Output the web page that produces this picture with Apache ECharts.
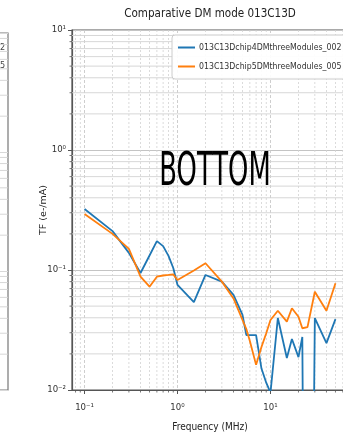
<!DOCTYPE html>
<html>
<head>
<meta charset="utf-8">
<script src="https://cdn.jsdelivr.net/npm/echarts@6/dist/echarts.min.js"></script>
<style>html,body{margin:0;padding:0;background:#fff;}#c{width:343px;height:440px;}</style>
</head>
<body>
<div id="c"></div>
<script>
// ---- data ----
const chartTitle = 'Comparative DM mode 013C13D';
const seriesNames = ['013C13Dchip4DMthreeModules_002', '013C13Dchip5DMthreeModules_005'];
const freqMHz = [0.1, 0.2, 0.3, 0.4, 0.5, 0.6, 0.7, 0.8, 0.9, 1, 1.5, 2, 3, 4, 5, 5.5, 6, 7, 8, 9, 10, 12, 15, 17, 20, 22, 25, 30, 40, 50];
const tfChip4 = [0.322, 0.211, 0.139, 0.0944, 0.132, 0.174, 0.158, 0.131, 0.104, 0.075, 0.054, 0.0909, 0.080, 0.062, 0.0422, 0.0287, 0.0287, 0.0287, 0.0151, 0.0115, 0.0095, 0.0398, 0.0185, 0.0266, 0.0188, 0.0277, 0, 0.0398, 0.0246, 0.039];
const tfChip5 = [0.293, 0.200, 0.150, 0.088, 0.0726, 0.088, 0.090, 0.091, 0.092, 0.0825, 0.099, 0.1138, 0.080, 0.058, 0.0383, 0.0322, 0.0256, 0.0162, 0.0228, 0.0297, 0.0383, 0.0458, 0.0371, 0.048, 0.0408, 0.0327, 0.0334, 0.0659, 0.0458, 0.0775];
const xTickValues = [0.1, 1, 10];
const xTickLabels = ['10\u207B\u00B9', '10\u2070', '10\u00B9'];
const yTickValues = [0.01, 0.1, 1, 10];
const yTickLabels = ['10\u207B\u00B2', '10\u207B\u00B9', '10\u2070', '10\u00B9'];
const xMinorTicks = [0.08, 0.09, 0.2, 0.3, 0.4, 0.5, 0.6, 0.7, 0.8, 0.9, 2, 3, 4, 5, 6, 7, 8, 9, 20, 30, 40, 50, 60];
const yMinorTicks = [0.02, 0.03, 0.04, 0.05, 0.06, 0.07, 0.08, 0.09, 0.2, 0.3, 0.4, 0.5, 0.6, 0.7, 0.8, 0.9, 2, 3, 4, 5, 6, 7, 8, 9];
const annotationText = 'BOTTOM';
const xName = 'Frequency (MHz)';
const yName = 'TF (e-/mA)';
const leftPanelLegendTail = ['2', '5'];

// ---- chart ----
const X_MIN = 0.0733, X_MAX = 68.2, Y_MIN = 0.01, Y_MAX = 10;
const FLOOR = 1e-8; // non-positive values are clipped below the axis on a log scale
const colors = ['#1f77b4', '#ff7f0e'];
const condensed = 'DejaVu Sans Condensed, DejaVu Sans, sans-serif';

function tickFmt(values, labels) {
  return function (v) {
    for (let i = 0; i < values.length; i++) {
      if (Math.abs(Math.log10(v) - Math.log10(values[i])) < 1e-6) return labels[i];
    }
    return '';
  };
}

function pairs(xs, ys) {
  return xs.map((x, i) => [x, ys[i] > 0 ? ys[i] : FLOOR]);
}

function minorXRender(params, api) {
  const cs = params.coordSys;
  const x = api.coord([api.value(0), api.value(1)])[0];
  const b = cs.y + cs.height;
  return { type: 'group', children: [
    { type: 'line', shape: { x1: x, y1: cs.y, x2: x, y2: b }, style: { stroke: '#d2d2d2', lineWidth: 0.8, lineDash: [2, 2] } },
    { type: 'line', shape: { x1: x, y1: b, x2: x, y2: b + 2.5 }, style: { stroke: '#555', lineWidth: 0.8 } }
  ]};
}
function minorYRender(params, api) {
  const cs = params.coordSys;
  const y = api.coord([api.value(0), api.value(1)])[1];
  return { type: 'group', children: [
    { type: 'line', shape: { x1: cs.x, y1: y, x2: cs.x + cs.width, y2: y }, style: { stroke: '#d2d2d2', lineWidth: 0.9 } },
    { type: 'line', shape: { x1: cs.x - 2.5, y1: y, x2: cs.x, y2: y }, style: { stroke: '#555', lineWidth: 0.8 } }
  ]};
}

const chart = echarts.init(document.getElementById('c'), null, { renderer: 'canvas' });
chart.setOption({
  backgroundColor: '#fff',
  animation: false,
  grid: [
    { left: 72, top: 30, width: 276, height: 360, show: true, borderColor: '#555', borderWidth: 1.2, containLabel: false, outerBoundsMode: 'none' },
    { left: -300, top: 33, width: 308, height: 357, show: true, borderColor: '#777', borderWidth: 1.2, containLabel: false, outerBoundsMode: 'none' }
  ],
  xAxis: [
    {
      gridIndex: 0, type: 'log', logBase: 10, min: X_MIN, max: X_MAX,
      name: xName, nameLocation: 'middle', nameGap: 32, nameMoveOverlap: false,
      nameTextStyle: { fontFamily: condensed, fontSize: 10, color: '#222' },
      axisLine: { show: true, lineStyle: { color: '#555', width: 1.2 } },
      axisTick: { show: true, length: 4, inside: false, lineStyle: { color: '#555' } },
      axisLabel: { formatter: tickFmt(xTickValues, xTickLabels), fontFamily: condensed, fontSize: 9.5, color: '#333', margin: 13, showMinLabel: false, showMaxLabel: false },
      splitLine: { show: true, lineStyle: { color: '#c8c8c8', width: 0.9, type: [3, 2] } }
    },
    { gridIndex: 1, type: 'value', min: 0, max: 1, show: false }
  ],
  yAxis: [
    {
      gridIndex: 0, type: 'log', logBase: 10, min: Y_MIN, max: Y_MAX,
      name: yName, nameLocation: 'middle', nameGap: 23, nameRotate: 90, nameMoveOverlap: false,
      nameTextStyle: { fontFamily: 'DejaVu Sans, sans-serif', fontSize: 9.5, color: '#222' },
      axisLine: { show: true, lineStyle: { color: '#555', width: 1.2 } },
      axisTick: { show: true, length: 4, lineStyle: { color: '#555' } },
      axisLabel: { formatter: tickFmt(yTickValues, yTickLabels), fontFamily: condensed, fontSize: 9.5, color: '#333', margin: 6 },
      splitLine: { show: true, lineStyle: { color: '#c4c4c4', width: 1 } }
    },
    {
      gridIndex: 1, type: 'log', logBase: 10, min: Y_MIN, max: Y_MAX,
      axisLine: { show: false }, axisTick: { show: false }, axisLabel: { show: false },
      splitLine: { show: true, lineStyle: { color: '#d8d8d8', width: 1 } }
    }
  ],
  legend: {
    data: seriesNames,
    orient: 'vertical', left: 172, top: 35,
    icon: 'rect',
    backgroundColor: 'rgba(255,255,255,0.92)', borderColor: '#cccccc', borderWidth: 1, borderRadius: 3,
    padding: [8, 8, 8, 6], itemGap: 10, itemWidth: 17, itemHeight: 2,
    textStyle: { fontFamily: condensed, fontSize: 8.7, color: '#333', padding: [0, 0, 0, -1] }
  },
  graphic: [
    { type: 'text', x: 210, y: 14, scaleX: 0.8, style: { text: chartTitle, fontFamily: 'DejaVu Sans, sans-serif', fontSize: 13, fill: '#222', textAlign: 'center', textVerticalAlign: 'middle' } },
    { type: 'text', x: 215, y: 173, scaleX: 0.55, z: 50, style: { text: annotationText, fontFamily: 'DejaVu Sans, sans-serif', fontSize: 47, fill: '#000', textAlign: 'center', textVerticalAlign: 'middle' } },
    { type: 'text', x: 0, y: 48, style: { text: leftPanelLegendTail[0], fontFamily: condensed, fontSize: 9, fill: '#444', textVerticalAlign: 'middle' } },
    { type: 'text', x: 0, y: 66, style: { text: leftPanelLegendTail[1], fontFamily: condensed, fontSize: 9, fill: '#444', textVerticalAlign: 'middle' } }
  ],
  series: [
    { type: 'custom', silent: true, z: 1, xAxisIndex: 0, yAxisIndex: 0, renderItem: minorXRender, data: xMinorTicks.map(v => [v, 1]) },
    { type: 'custom', silent: true, z: 1, xAxisIndex: 0, yAxisIndex: 0, renderItem: minorYRender, data: yMinorTicks.map(v => [1, v]) },
    { type: 'custom', silent: true, z: 1, xAxisIndex: 1, yAxisIndex: 1, renderItem: minorYRender, data: yMinorTicks.map(v => [0.5, v]) },
    {
      name: seriesNames[0], type: 'line', xAxisIndex: 0, yAxisIndex: 0, z: 3,
      data: pairs(freqMHz, tfChip4), symbol: 'none', showSymbol: false, clip: true,
      itemStyle: { color: colors[0] }, lineStyle: { color: colors[0], width: 1.8 }
    },
    {
      name: seriesNames[1], type: 'line', xAxisIndex: 0, yAxisIndex: 0, z: 4,
      data: pairs(freqMHz, tfChip5), symbol: 'none', showSymbol: false, clip: true,
      itemStyle: { color: colors[1] }, lineStyle: { color: colors[1], width: 1.8 }
    }
  ]
});
</script>
</body>
</html>
